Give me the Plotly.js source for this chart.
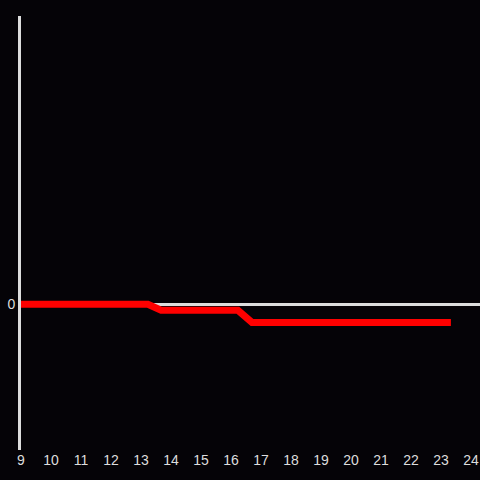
<!DOCTYPE html>
<html>
<head>
<meta charset="utf-8">
<script src="https://cdn.plot.ly/plotly-3.0.1.min.js"></script>
<style>html,body{margin:0;padding:0;background:#050307;}#chart{width:480px;height:480px;}</style>
</head>
<body>
<div id="chart"></div>
<script>
var xValues = [8.9, 13.23, 13.67, 16.23, 16.7, 23.33];
var yValues = [0, 0, -0.041, -0.041, -0.124, -0.124];
var xTicks = [9,10,11,12,13,14,15,16,17,18,19,20,21,22,23,24];

var trace = {
  x: xValues, y: yValues, type: 'scatter', mode: 'lines',
  line: {color: '#ff0000', width: 7},
  hoverinfo: 'skip'
};
var layout = {
  width: 480, height: 480,
  margin: {l: 21, r: 0, t: 16, b: 30},
  paper_bgcolor: '#050307', plot_bgcolor: '#050307',
  showlegend: false,
  font: {family: 'Liberation Sans, Arial, sans-serif', size: 14, color: '#dddddd'},
  xaxis: {
    range: [9, 24.3], tickvals: xTicks, ticktext: xTicks.map(String),
    showgrid: false, zeroline: false, showline: false, ticks: '',
    tickfont: {size: 14, color: '#dddddd'}
  },
  yaxis: {
    range: [-1, 1.979], tickvals: [0], ticktext: ['0'],
    showgrid: false, zeroline: true, zerolinecolor: '#dddddd', zerolinewidth: 3,
    showline: true, linecolor: '#dddddd', linewidth: 3, ticks: '',
    tickfont: {size: 14, color: '#dddddd'}
  }
};
Plotly.newPlot('chart', [trace], layout, {displayModeBar: false, staticPlot: true});
</script>
</body>
</html>
